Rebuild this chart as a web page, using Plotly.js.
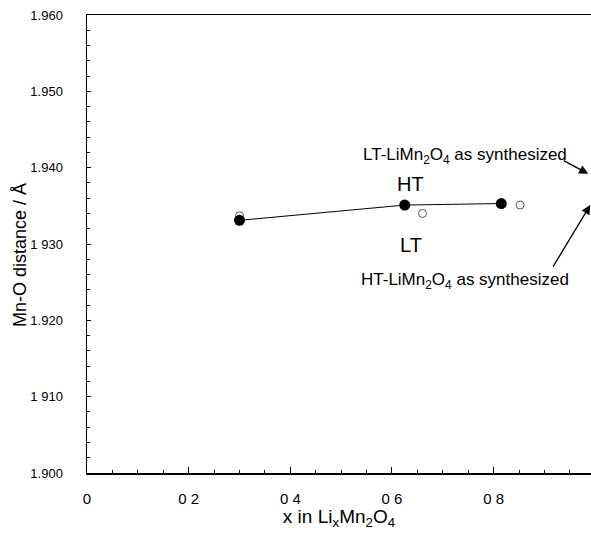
<!DOCTYPE html>
<html>
<head>
<meta charset="utf-8">
<script src="https://cdn.plot.ly/plotly-3.0.1.min.js"></script>
<style>html,body{margin:0;padding:0;background:#fff;}#chart{width:591px;height:533px;}</style>
</head>
<body>
<div id="chart"></div>
<script>
// HT series (filled circles, joined by a line)
const htX = [0.30, 0.625, 0.815];
const htY = [1.9331, 1.9351, 1.9353];
// LT series (open circles)
const ltX = [0.30, 0.66, 0.852];
const ltY = [1.9337, 1.9340, 1.9351];
// as-synthesized points at x = 1 (at the cropped right edge)
const synthX = [1.0, 1.0];
const synthY = [1.9392, 1.9360];
// tick labels as printed
const xTickVals = [0, 0.2, 0.4, 0.6, 0.8];
const xTickText = ["0", "0 2", "0 4", "0 6", "0 8"];
const yTickVals = [1.96, 1.95, 1.94, 1.93, 1.92, 1.91, 1.90];
const yTickText = ["1.960", "1.950", "1.940", "1 930", "1.920", "1 910", "1.900"];

const font = "Liberation Sans, Arial, Helvetica, sans-serif";

const traces = [
  {x: ltX, y: ltY, mode: 'markers', type: 'scatter', cliponaxis: false,
   marker: {symbol: 'circle-open', size: 8, color: '#555', line: {width: 1, color: '#555'}}},
  {x: synthX, y: synthY, mode: 'markers', type: 'scatter', cliponaxis: false,
   marker: {symbol: 'circle-open', size: 8, color: '#888', line: {width: 1, color: '#888'}}},
  {x: htX, y: htY, mode: 'lines+markers', type: 'scatter', cliponaxis: false,
   line: {color: '#000', width: 1},
   marker: {symbol: 'circle', size: 11, color: '#000'}}
];

const layout = {
  width: 591, height: 533,
  margin: {l: 87, r: 0, t: 15, b: 60},
  showlegend: false,
  paper_bgcolor: '#fff', plot_bgcolor: '#fff',
  font: {family: font, color: '#000', size: 14},
  xaxis: {
    range: [0, 0.9915], showgrid: false, zeroline: false,
    showline: true, linecolor: '#000', linewidth: 1.5, mirror: true,
    ticks: 'inside', ticklen: 6, tickwidth: 1, tickcolor: '#000',
    tickmode: 'array', tickvals: xTickVals, ticktext: xTickText,
    ticklabelstandoff: 11,
    tickfont: {family: font, size: 15, color: '#000'},
    minor: {ticks: 'inside', dtick: 0.05, ticklen: 3, tickcolor: '#000', tickwidth: 1, showgrid: false},
    title: {text: 'x in Li<sub>x</sub>Mn<sub>2</sub>O<sub>4</sub>', font: {family: font, size: 19, color: '#000'}, standoff: 3}
  },
  yaxis: {
    range: [1.900, 1.960], showgrid: false, zeroline: false,
    showline: true, linecolor: '#000', linewidth: 1.5,
    ticks: 'inside', ticklen: 4, tickwidth: 1, tickcolor: '#000',
    tickmode: 'array', tickvals: yTickVals, ticktext: yTickText,
    ticklabelstandoff: 20,
    tickfont: {family: font, size: 13, color: '#000'},
    minor: {ticks: 'inside', dtick: 0.002, ticklen: 3, tickcolor: '#000', tickwidth: 1, showgrid: false}
  },
  annotations: [
    {x: -0.133, y: 0.476, xref: 'paper', yref: 'paper', text: 'Mn-O distance / Å', showarrow: false,
     textangle: -90, xanchor: 'center', yanchor: 'middle',
     font: {family: font, size: 18, color: '#000'}},
    {x: 0.637, y: 1.9378, xref: 'x', yref: 'y', text: 'HT', showarrow: false,
     font: {family: font, size: 20, color: '#000'}},
    {x: 0.637, y: 1.9299, xref: 'x', yref: 'y', text: 'LT', showarrow: false,
     font: {family: font, size: 20, color: '#000'}},
    {x: 0.744, y: 1.9415, xref: 'x', yref: 'y', text: 'LT-LiMn<sub>2</sub>O<sub>4</sub> as synthesized', showarrow: false,
     font: {family: font, size: 17, color: '#000'}},
    {x: 0.744, y: 1.9252, xref: 'x', yref: 'y', text: 'HT-LiMn<sub>2</sub>O<sub>4</sub> as synthesized', showarrow: false,
     font: {family: font, size: 17, color: '#000'}},
    {x: 0.986, y: 1.9392, xref: 'x', yref: 'y', text: '', showarrow: true,
     ax: -26, ay: -14, arrowhead: 2, arrowsize: 1.4, arrowwidth: 1.3, arrowcolor: '#000'},
    {x: 0.990, y: 1.9351, xref: 'x', yref: 'y', text: '', showarrow: true,
     ax: -38, ay: 63, arrowhead: 2, arrowsize: 1.4, arrowwidth: 1.3, arrowcolor: '#000'}
  ]
};

Plotly.newPlot('chart', traces, layout, {displayModeBar: false, staticPlot: true});
</script>
</body>
</html>
